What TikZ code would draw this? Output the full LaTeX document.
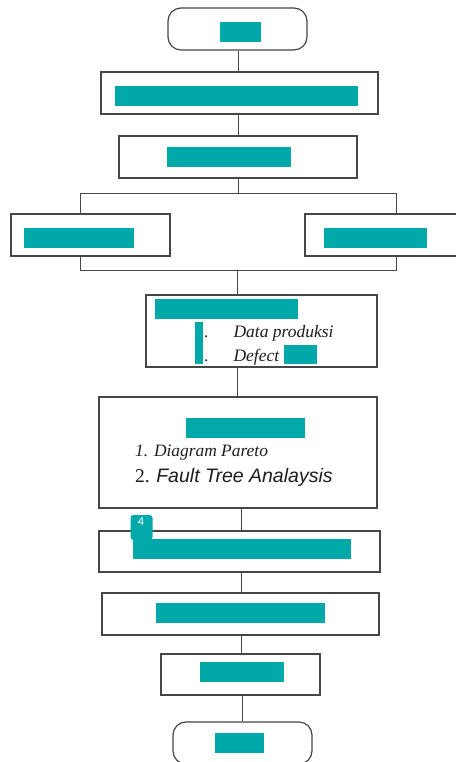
\documentclass[tikz,border=0pt]{standalone}
\usepackage{fontspec}
\setmainfont{Liberation Serif}
\setsansfont{Liberation Sans}
\definecolor{tealbox}{RGB}{0,169,169}
\definecolor{edge}{RGB}{70,70,70}
\definecolor{ink}{RGB}{30,30,30}
\begin{document}
\begin{tikzpicture}[x=1pt,y=-1pt,
  box/.style={draw=edge,line width=1.2pt,fill=white,inner sep=0pt},
  term/.style={box,rounded corners=13pt},
  link/.style={draw=edge,line width=1pt},
  redact/.style={fill=tealbox},
  txt/.style={inner sep=0pt,anchor=base west,text=ink}]
\useasboundingbox (0,0) rectangle (455,762);
% boxes
\node[term,minimum width=139pt,minimum height=42pt] (start) at (237.5,29) {};
\node[box,minimum width=277pt,minimum height=42pt] (b2) at (239.5,93) {};
\node[box,minimum width=238pt,minimum height=42pt] (b3) at (238,157) {};
\node[box,minimum width=159pt,minimum height=42pt] (bl) at (90.5,235) {};
\node[box,minimum width=155pt,minimum height=42pt] (br) at (382.5,235) {};
\node[box,minimum width=231pt,minimum height=72pt] (b4) at (261.5,331) {};
\node[box,minimum width=278pt,minimum height=111pt] (b5) at (238,452.5) {};
\node[box,minimum width=281pt,minimum height=41pt] (b6) at (239.5,551.5) {};
\node[box,minimum width=277pt,minimum height=42pt] (b7) at (240.5,614) {};
\node[box,minimum width=159pt,minimum height=41pt] (b8) at (240.5,674.5) {};
\node[term,minimum width=139pt,minimum height=42pt] (end) at (242.5,743) {};
% connectors
\coordinate (c1) at (238.7,0);
\draw[link] (start.south -| c1) -- (b2.north -| c1);
\draw[link] (b2.south -| c1) -- (b3.north -| c1);
\coordinate (jt) at (238.7,193);
\coordinate (lt) at (80,193);
\coordinate (rt) at (396,193);
\draw[link] (b3.south -| jt) -- (jt);
\draw[link] (bl.north -| lt) -- (lt) -- (rt) -- (br.north -| rt);
\coordinate (jb) at (237,270);
\coordinate (lb) at (80,270);
\coordinate (rb) at (396,270);
\draw[link] (bl.south -| lb) -- (lb) -- (rb) -- (br.south -| rb);
\draw[link] (jb) -- (b4.north -| jb);
\coordinate (c2) at (237.3,0);
\draw[link] (b4.south -| c2) -- (b5.north -| c2);
\coordinate (c3) at (241,0);
\draw[link] (b5.south -| c3) -- (b6.north -| c3);
\draw[link] (b6.south -| c3) -- (b7.north -| c3);
\draw[link] (b7.south -| c3) -- (b8.north -| c3);
\coordinate (c4) at (242.3,0);
\draw[link] (b8.south -| c4) -- (end.north -| c4);
% redaction blocks
\fill[redact] (220,22) rectangle (261,42);
\fill[redact] (115,86) rectangle (358,106);
\fill[redact] (167,147) rectangle (291,167);
\fill[redact] (24,228) rectangle (134,248);
\fill[redact] (324,228) rectangle (427,248);
\fill[redact] (155,299) rectangle (298,319);
\fill[redact] (195,322) rectangle (203,364);
\fill[redact] (284,345) rectangle (317,364);
\fill[redact] (186,418) rectangle (305,438);
\fill[redact] (133,539) rectangle (351,559);
\fill[redact] (156,603) rectangle (325,623);
\fill[redact] (200,662) rectangle (284,682);
\fill[redact] (215,733) rectangle (264,753);
\node[fill=tealbox,rounded corners=3pt,minimum width=22pt,minimum height=25pt,inner sep=0pt] (badge) at (141.5,527.5) {};
\node[inner sep=0pt,text=white,font=\sffamily\fontsize{11.5}{11.5}\selectfont] (badgenum) at (141,521.5) {4};
% texts
\node[txt,font=\fontsize{17}{17}\selectfont] (d1) at (204,337) {.};
\node[txt,font=\fontsize{17}{17}\selectfont] (d2) at (204,361) {.};
\node[txt,font=\itshape\fontsize{17.5}{17.5}\selectfont] (dp) at (233.3,337) {Data produksi};
\node[txt,font=\itshape\fontsize{17.5}{17.5}\selectfont] (df) at (233.3,361) {Defect};
\node[txt,font=\itshape\fontsize{17.4}{17.4}\selectfont] (m1) at (135,456.7) {1. Diagram Pareto};
\node[txt,font=\fontsize{19.5}{19.5}\selectfont] (m2) at (135,482) {2. {\sffamily\itshape Fault Tree Analaysis}};
\end{tikzpicture}
\end{document}
